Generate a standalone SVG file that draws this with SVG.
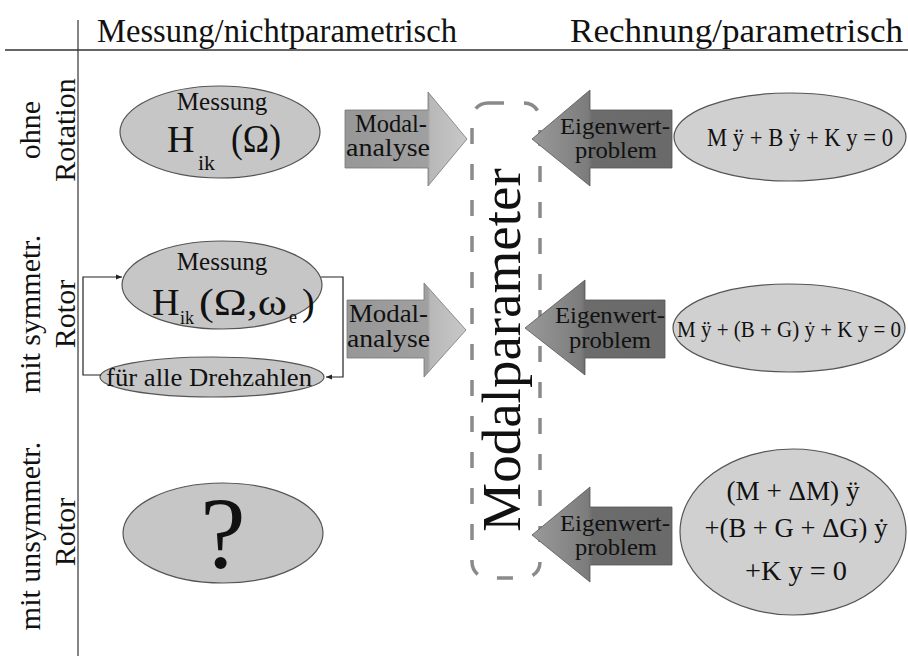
<svg xmlns="http://www.w3.org/2000/svg" width="908" height="656" viewBox="0 0 908 656" font-family="'Liberation Serif', 'DejaVu Serif', 'Noto Serif', serif">
<defs>
<style>
text{font-family:"Liberation Serif","DejaVu Serif","Noto Serif",serif;fill:#111}
.ell{fill:#c6c6c6;stroke:#555;stroke-width:1.2}
.eq{fill:#d0d0d0;stroke:#555;stroke-width:1.2}
.row{font-size:30px}
.lbl{font-size:25px}
.conn{fill:none;stroke:#222;stroke-width:1.2}
.modal{stroke:#777;stroke-width:0.8}
.eig{stroke:#555;stroke-width:0.8}
</style>
<linearGradient id="gModal" x1="0" y1="0" x2="1" y2="0">
<stop offset="0" stop-color="#979797"/>
<stop offset="0.68" stop-color="#a0a0a0"/>
<stop offset="0.7" stop-color="#b8b8b8"/>
<stop offset="1" stop-color="#c8c8c8"/>
</linearGradient>
<linearGradient id="gEig" x1="0" y1="0" x2="1" y2="0">
<stop offset="0" stop-color="#9a9a9a"/>
<stop offset="0.4" stop-color="#7c7c7c"/>
<stop offset="0.43" stop-color="#6c6c6c"/>
<stop offset="1" stop-color="#6a6a6a"/>
</linearGradient>
<marker id="ah" viewBox="0 0 10 10" refX="10" refY="5" markerWidth="6" markerHeight="6" orient="auto" markerUnits="userSpaceOnUse">
<path d="M0,1 L10,5 L0,9 Z" fill="#222"/>
</marker>
</defs>
<rect width="908" height="656" fill="#fff"/>

<g id="frame">
<line x1="5" y1="50" x2="908" y2="50" stroke="#333" stroke-width="1.6"/>
<line x1="78" y1="20" x2="78" y2="656" stroke="#333" stroke-width="1.2"/>
<text x="97" y="42" font-size="33" textLength="360" lengthAdjust="spacingAndGlyphs">Messung/nichtparametrisch</text>
<text x="570" y="42" font-size="33" textLength="333" lengthAdjust="spacingAndGlyphs">Rechnung/parametrisch</text>
</g>

<g id="row-labels">
<text class="row" text-anchor="middle" transform="translate(40,130) rotate(-90)">ohne</text>
<text class="row" text-anchor="middle" transform="translate(75,130) rotate(-90)">Rotation</text>
<text class="row" text-anchor="middle" transform="translate(40,314) rotate(-90)">mit symmetr.</text>
<text class="row" text-anchor="middle" transform="translate(75,314) rotate(-90)">Rotor</text>
<text class="row" text-anchor="middle" transform="translate(40,536) rotate(-90)">mit unsymmetr.</text>
<text class="row" text-anchor="middle" transform="translate(75,532) rotate(-90)">Rotor</text>
</g>

<g id="modalparameter">
<rect x="472" y="103" width="68" height="475" rx="16" fill="none" stroke="#8a8a8a" stroke-width="3.5" stroke-dasharray="16 20"/>
<text transform="translate(520,350) rotate(-90)" text-anchor="middle" font-size="55">Modalparameter</text>
</g>

<g id="messung1">
<ellipse class="ell" cx="220" cy="132" rx="100" ry="46"/>
<text class="lbl" x="222" y="110" text-anchor="middle">Messung</text>
<text x="167" y="152" font-size="38">H</text>
<text x="198" y="170" font-size="22">ik</text>
<text x="231" y="152" font-size="40" textLength="50" lengthAdjust="spacingAndGlyphs">(Ω)</text>
</g>

<g id="messung2">
<ellipse class="ell" cx="222" cy="285" rx="100" ry="44"/>
<text class="lbl" x="222" y="270" text-anchor="middle">Messung</text>
<text x="152" y="315" font-size="38">H</text>
<text x="180" y="324" font-size="18">ik</text>
<text x="199" y="315" font-size="38" textLength="88" lengthAdjust="spacingAndGlyphs">(Ω,ω</text>
<text x="289" y="323" font-size="18">e</text>
<text x="302" y="315" font-size="38">)</text>
</g>

<g id="drehzahlen">
<ellipse class="ell" cx="212" cy="377" rx="112" ry="20"/>
<text x="106" y="386" font-size="25" textLength="206" lengthAdjust="spacingAndGlyphs">für alle Drehzahlen</text>
</g>

<g id="unknown">
<ellipse class="ell" cx="223" cy="533" rx="100" ry="50"/>
<text x="223" y="568" text-anchor="middle" font-size="102">?</text>
</g>

<g id="modal1">
<path class="modal" fill="url(#gModal)" d="M345,110 H428 V92 L467,139 L428,186 V168 H345 Z"/>
<text x="355" y="132" font-size="25" textLength="72" lengthAdjust="spacingAndGlyphs">Modal-</text>
<text x="346" y="156" font-size="25" textLength="84" lengthAdjust="spacingAndGlyphs">analyse</text>
</g>

<g id="modal2">
<path class="modal" fill="url(#gModal)" d="M347,300 H424 V283 L466,330 L424,377 V358 H347 Z"/>
<text x="349" y="322" font-size="25" textLength="79" lengthAdjust="spacingAndGlyphs">Modal-</text>
<text x="347" y="347" font-size="25" textLength="83" lengthAdjust="spacingAndGlyphs">analyse</text>
</g>

<g id="eigen1">
<path class="eig" fill="url(#gEig)" d="M672,110 H590 V90 L532,139 L590,186 V168 H672 Z"/>
<text x="560" y="134" font-size="24" textLength="110" lengthAdjust="spacingAndGlyphs">Eigenwert-</text>
<text x="575" y="158" font-size="24" textLength="82" lengthAdjust="spacingAndGlyphs">problem</text>
</g>

<g id="eigen2">
<path class="eig" fill="url(#gEig)" d="M665,300 H585 V280 L525,328 L585,375 V358 H665 Z"/>
<text x="555" y="323" font-size="24" textLength="110" lengthAdjust="spacingAndGlyphs">Eigenwert-</text>
<text x="569" y="348" font-size="24" textLength="82" lengthAdjust="spacingAndGlyphs">problem</text>
</g>

<g id="eigen3">
<path class="eig" fill="url(#gEig)" d="M672,507 H590 V487 L532,535 L590,582 V565 H672 Z"/>
<text x="560" y="531" font-size="24" textLength="110" lengthAdjust="spacingAndGlyphs">Eigenwert-</text>
<text x="575" y="555" font-size="24" textLength="82" lengthAdjust="spacingAndGlyphs">problem</text>
</g>

<g id="eq1">
<ellipse class="eq" cx="790" cy="137" rx="116" ry="44"/>
<text x="800" y="146" text-anchor="middle" font-size="26" textLength="186" lengthAdjust="spacingAndGlyphs">M ÿ + B ẏ + K y = 0</text>
</g>

<g id="eq2">
<ellipse class="eq" cx="789" cy="328" rx="116" ry="44"/>
<text x="789" y="337" text-anchor="middle" font-size="24" textLength="224" lengthAdjust="spacingAndGlyphs">M ÿ + (B + G) ẏ + K y = 0</text>
</g>

<g id="eq3">
<ellipse class="eq" cx="793" cy="532" rx="113" ry="83"/>
<text x="793" y="500" text-anchor="middle" font-size="28" textLength="133" lengthAdjust="spacingAndGlyphs">(M + ΔM) ÿ</text>
<text x="796" y="537" text-anchor="middle" font-size="28" textLength="183" lengthAdjust="spacingAndGlyphs">+(B + G + ΔG) ẏ</text>
<text x="796" y="580" text-anchor="middle" font-size="28" textLength="102" lengthAdjust="spacingAndGlyphs">+K y = 0</text>
</g>

<g id="connectors">
<path class="conn" d="M321,277 H343 V377 H326" marker-end="url(#ah)"/>
<path class="conn" d="M101,375 H83 V277 H122" marker-end="url(#ah)"/>
</g>
</svg>
